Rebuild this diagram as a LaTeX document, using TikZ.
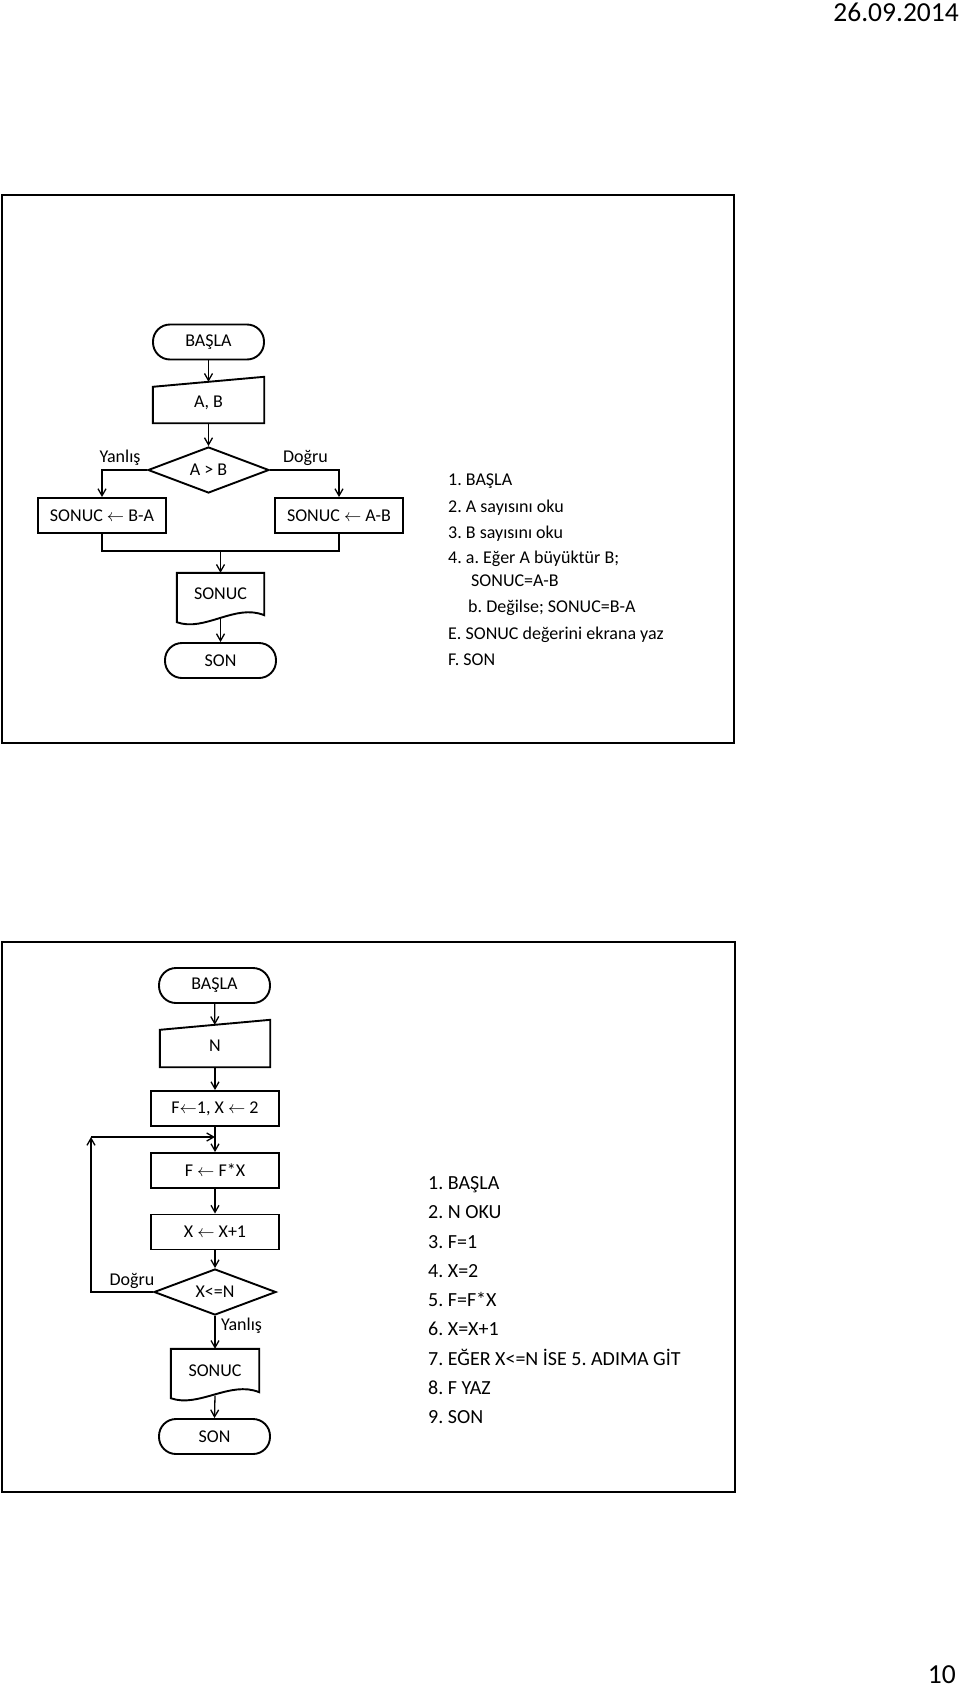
\documentclass[tikz,border=0pt]{standalone}
\usepackage{fontspec}
\setmainfont{Carlito}
\usetikzlibrary{arrows.meta,shapes.geometric,calc}
\frenchspacing
\begin{document}
\begin{tikzpicture}[x=1pt,y=-1pt,
  every node/.style={font=\fontsize{18}{22}\selectfont, text=black},
  outline/.style={line width=1.9pt},
  term/.style={draw, line width=1.9pt, rectangle, rounded corners=17pt, minimum width=111pt, minimum height=35pt, inner sep=0pt},
  procbox/.style={draw, line width=1.9pt, rectangle, minimum width=128pt, minimum height=35pt, inner sep=0pt},
  cond/.style={draw, line width=1.9pt, diamond, shape aspect=2.6, minimum width=121pt, minimum height=46pt, inner sep=0pt},
  plain/.style={inner sep=0pt},
  conn/.style={line width=1.3pt, -{Straight Barb[length=7pt,width=8pt]}},
  joinline/.style={line width=1.3pt},
  frame/.style={line width=2.4pt},
  lista/.style={anchor=base west, inner sep=0pt, font=\fontsize{18}{22}\selectfont},
  listb/.style={anchor=base west, inner sep=0pt, font=\fontsize{20}{24}\selectfont},
  big/.style={anchor=base east, inner sep=0pt, font=\fontsize{27.5}{32}\selectfont},
]
\fill[white] (0,0) rectangle (960,1689);
\useasboundingbox (0,0) rectangle (960,1689);

% header / footer
\node[big] (date) at (959,21) {26.09.2014};
\node[big] (page) at (956,1683) {10};

% frames
\draw[frame] (2,195) rectangle (734,743);
\draw[frame] (2,942) rectangle (735,1492);

% ---------- flowchart 1 ----------
\node[term] (s1) at (208.5,342) {BAŞLA};
\node[plain, minimum width=111pt, minimum height=41pt] (i1) at (208.5,402.5) {A, B};
\draw[outline] (i1.south west) -- ([yshift=-5pt]i1.north west) -- ([yshift=5pt]i1.north east) -- (i1.south east) -- cycle;
\node[cond] (d1) at (208.5,470) {A > B};
\node[procbox] (bL) at (102,515.5) {SONUC $\leftarrow$ B-A};
\node[procbox] (bR) at (339,515.5) {SONUC $\leftarrow$ A-B};
\coordinate (m1) at (220.5,551);
\node[plain, minimum width=87pt, minimum height=42pt] (o1) at (220.5,594) {SONUC};
\draw[outline] ([yshift=-7pt]o1.south west) -- (o1.north west) -- (o1.north east) -- (o1.south east)
  .. controls +(-29,-12) and +(28,10) .. ([yshift=-7pt]o1.south west) -- cycle;
\node[term] (e1) at (220.5,660.5) {SON};
\node[plain, anchor=base] (yl1) at (120,462) {Yanlış};
\node[plain, anchor=base] (dg1) at (305.5,462) {Doğru};

\draw[conn] (s1) -- (i1);
\draw[conn] (i1) -- (d1);
\draw[conn] (d1.west) -| (bL.north);
\draw[conn] (d1.east) -| (bR.north);
\draw[joinline] (bL.south) |- (m1) -| (bR.south);
\draw[conn] (m1) -- (o1.north);
\draw[conn] ([yshift=-3.5pt]o1.south) -- (e1.north);

% list 1
\node[lista] (l1a) at (448,485) {1. BAŞLA};
\node[lista] (l1b) at (448,512) {2. A sayısını oku};
\node[lista] (l1c) at (448,538) {3. B sayısını oku};
\node[lista] (l1d) at (448,563) {4. a. Eğer A büyüktür B;};
\node[lista] (l1e) at (471,586) {SONUC=A-B};
\node[lista] (l1f) at (468,612) {b. Değilse; SONUC=B-A};
\node[lista] (l1g) at (448,639) {E. SONUC değerini ekrana yaz};
\node[lista] (l1h) at (448,665) {F. SON};

% ---------- flowchart 2 ----------
\node[term] (s2) at (214.5,985.5) {BAŞLA};
\node[plain, minimum width=110pt, minimum height=42pt] (i2) at (215,1046) {N};
\draw[outline] (i2.south west) -- ([yshift=-5pt]i2.north west) -- ([yshift=5pt]i2.north east) -- (i2.south east) -- cycle;
\node[procbox] (a2) at (215,1108.5) {F$\leftarrow$1, X $\leftarrow$ 2};
\node[procbox] (p2) at (215,1170.5) {F $\leftarrow$ F*X};
\node[procbox] (q2) at (215,1232) {X $\leftarrow$ X+1};
\node[cond, minimum width=122pt] (d2) at (215,1292) {X<=N};
\node[plain, minimum width=88pt, minimum height=43pt] (o2) at (215,1370.5) {SONUC};
\draw[outline] ([yshift=-6pt]o2.south west) -- (o2.north west) -- (o2.north east) -- (o2.south east)
  .. controls +(-29,-12) and +(28,10) .. ([yshift=-6pt]o2.south west) -- cycle;
\node[term] (e2) at (214.5,1436.5) {SON};
\coordinate (lp) at (91,1137);
\node[plain, anchor=base] (dg2) at (132,1285) {Doğru};
\node[plain, anchor=base] (yl2) at (241.5,1330) {Yanlış};

\draw[conn] (s2) -- (i2);
\draw[conn] (i2) -- (a2);
\draw[conn] (a2) -- (p2);
\draw[conn] (p2) -- (q2);
\draw[conn] (q2) -- (d2);
\draw[conn] (d2.west) -| (lp);
\draw[conn] (lp) -- (a2.south |- lp);
\draw[conn] (d2.south) -- (o2.north);
\draw[conn] ([yshift=-3.5pt]o2.south) -- (e2.north);

% list 2
\node[listb] (l2a) at (428,1189.5) {1. BAŞLA};
\node[listb] (l2b) at (428,1218.75) {2. N OKU};
\node[listb] (l2c) at (428,1248) {3. F=1};
\node[listb] (l2d) at (428,1277.25) {4. X=2};
\node[listb] (l2e) at (428,1306.5) {5. F=F*X};
\node[listb] (l2f) at (428,1335.75) {6. X=X+1};
\node[listb] (l2g) at (428,1365) {7. EĞER X<=N İSE 5. ADIMA GİT};
\node[listb] (l2h) at (428,1394.25) {8. F YAZ};
\node[listb] (l2i) at (428,1423.5) {9. SON};
\end{tikzpicture}
\end{document}
